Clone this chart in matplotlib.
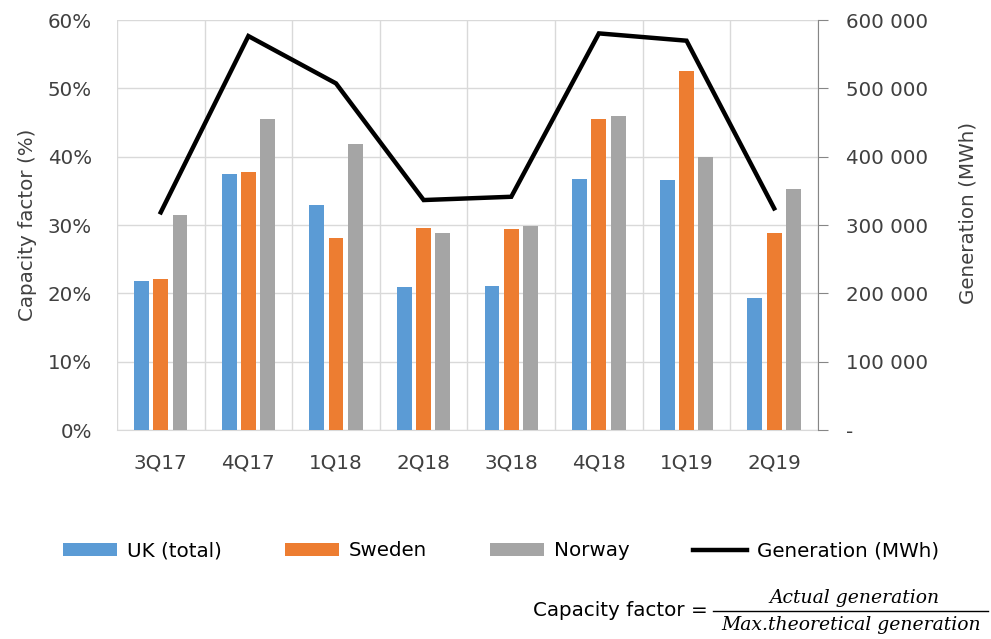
import numpy as np
import matplotlib
matplotlib.use('Agg')
import matplotlib.pyplot as plt
from matplotlib.lines import Line2D

plt.rcParams['font.family'] = ['DejaVu Sans']

quarters = ['3Q17', '4Q17', '1Q18', '2Q18', '3Q18', '4Q18', '1Q19', '2Q19']
uk = [21.8, 37.4, 33.0, 20.9, 21.1, 36.8, 36.6, 19.3]
sweden = [22.1, 37.7, 28.1, 29.6, 29.4, 45.5, 52.5, 28.8]
norway = [31.4, 45.5, 41.8, 28.8, 29.9, 45.9, 40.0, 35.3]
generation = [318600, 576600, 507300, 336600, 341400, 580500, 569800, 324400]

blue = '#5B9BD5'
orange = '#ED7D31'
grey = '#A5A5A5'
txt = '#404040'
fs = 14.3

fig = plt.figure(figsize=(9.91, 6.39), dpi=100)
ax = fig.add_axes([0.118, 0.327, 0.7074, 0.6416])
ax2 = ax.twinx()

x = np.arange(len(quarters))
w = 0.17
p = 0.22
ax.bar(x - p, uk, w, color=blue, label='UK (total)', zorder=3)
ax.bar(x, sweden, w, color=orange, label='Sweden', zorder=3)
ax.bar(x + p, norway, w, color=grey, label='Norway', zorder=3)
ax2.plot(x, generation, color='black', lw=3.2, label='Generation (MWh)',
         solid_joinstyle='miter')

ax.set_xlim(-0.5, len(quarters) - 0.5)
ax.set_ylim(0, 60)
ax.set_yticks(range(0, 61, 10))
ax.set_yticklabels([f'{v}%' for v in range(0, 61, 10)])
ax.set_xticks(x)
ax.set_xticklabels(quarters)
ax.set_xticks(np.arange(-0.5, len(quarters)), minor=True)
ax.grid(axis='y', color='#d9d9d9', lw=1, zorder=0)
ax.grid(axis='x', which='minor', color='#d9d9d9', lw=1, zorder=0)
ax.tick_params(axis='both', which='both', length=0, labelsize=fs, colors=txt)
ax.tick_params(axis='y', pad=18)
ax.tick_params(axis='x', pad=17)
for s in ['top', 'left', 'right']:
    ax.spines[s].set_visible(False)
ax.spines['bottom'].set_color('#d9d9d9')
ax.set_ylabel('Capacity factor (%)', fontsize=fs, color=txt, labelpad=8)

ax2.set_ylim(0, 600000)
ticks2 = list(range(0, 600001, 100000))
ax2.set_yticks(ticks2)
ax2.set_yticklabels(['-'] + [f'{v // 1000} 000' for v in ticks2[1:]])
ax2.tick_params(axis='y', length=7, color='#868686', labelsize=fs, colors=txt, pad=13)
for s in ['top', 'left', 'bottom']:
    ax2.spines[s].set_visible(False)
ax2.spines['right'].set_color('#868686')
ax2.set_ylabel('Generation (MWh)', fontsize=fs, color=txt, rotation=90, labelpad=22)
ax2.yaxis.label.set_y(0.53)

h1, l1 = ax.get_legend_handles_labels()
h2, l2 = ax2.get_legend_handles_labels()
fig.legend(h1 + h2, l1 + l2, loc='center', bbox_to_anchor=(501 / 991, 1 - 551 / 639),
           ncol=4, frameon=False, fontsize=fs, handlelength=2.7, handleheight=0.6,
           handletextpad=0.5, columnspacing=3.2, labelcolor='black')

# formula
fy = 1 - 611 / 639
fig.text(708 / 991, fy, 'Capacity factor =', ha='right', va='center', fontsize=fs, color='black')
fig.text(854 / 991, 1 - 598 / 639, 'Actual generation', ha='center', va='center',
         fontsize=13.5, family='DejaVu Serif', style='italic')
fig.text(851 / 991, 1 - 625 / 639, 'Max.theoretical generation', ha='center', va='center',
         fontsize=13.5, family='DejaVu Serif', style='italic')
fig.add_artist(Line2D([713 / 991, 988 / 991], [fy, fy], color='black', lw=1,
                      transform=fig.transFigure))

fig.savefig('out.png', dpi=100)
